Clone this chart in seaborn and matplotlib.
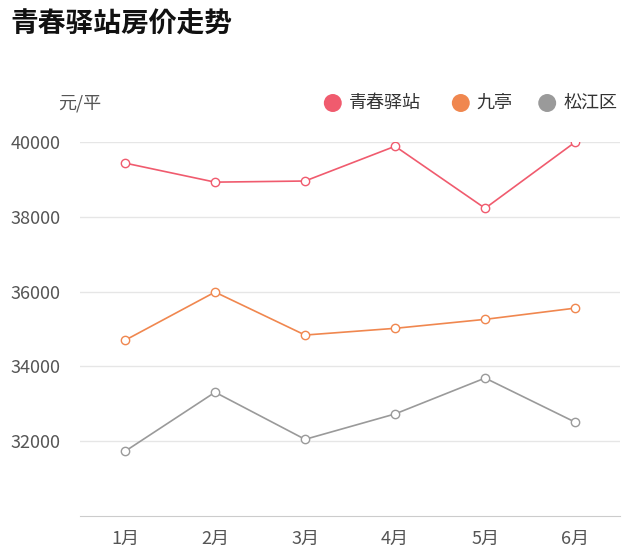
import matplotlib
matplotlib.use("Agg")
import matplotlib.pyplot as plt
import seaborn as sns
import pandas as pd

months = ["1月", "2月", "3月", "4月", "5月", "6月"]
qingchun = [39440, 38930, 38960, 39890, 38230, 40000]
jiuting = [34700, 35990, 34840, 35020, 35260, 35560]
songjiang = [31730, 33310, 32050, 32730, 33690, 32510]
series_names = ["青春驿站", "九亭", "松江区"]
colors = ["#f05b6e", "#f0874f", "#9a9a9a"]
yticks = [32000, 34000, 36000, 38000, 40000]

plt.rcParams["font.family"] = "sans-serif"
plt.rcParams["font.sans-serif"] = ["Noto Sans CJK SC", "Noto Sans CJK JP", "Noto Sans CJK TC",
                                   "DejaVu Sans"]
df = pd.DataFrame({"month": months * 3,
                   "price": qingchun + jiuting + songjiang,
                   "area": [n for n in series_names for _ in months]})

fig = plt.figure(figsize=(6.4, 5.45), dpi=100)
ax = fig.add_axes([0.125, 0.0532, 0.844, 0.686])
sns.lineplot(data=df, x="month", y="price", hue="area", palette=colors,
             marker="o", markersize=6, markerfacecolor="white",
             markeredgewidth=1.0, linewidth=1.2, ax=ax, legend=False)
for line, c in zip(ax.lines, colors):
    line.set_markeredgecolor(c)

ax.set_xlim(-0.5, 5.5)
ax.set_ylim(30000, 40000)
ax.set_yticks(yticks)
ax.set_yticklabels([str(v) for v in yticks])
ax.grid(axis="y", color="#e6e6e6", linewidth=1)
ax.set_axisbelow(True)
for s in ["top", "right", "left"]:
    ax.spines[s].set_visible(False)
ax.spines["bottom"].set_color("#cccccc")
ax.tick_params(axis="y", length=0, labelsize=13, labelcolor="#555555", pad=14)
ax.tick_params(axis="x", length=0, labelsize=13, labelcolor="#555555", pad=10)
ax.set_xlabel("")
ax.set_ylabel("")

fig.text(0.016, 0.955, "青春驿站房价走势", fontsize=20, fontweight="bold",
         va="center", ha="left", color="#111111")
fig.text(0.125, 0.81, "元/平", fontsize=13, color="#555555", ha="center", va="center")

lx = [0.52, 0.72, 0.855]
for x, name, c in zip(lx, series_names, colors):
    fig.patches.append(matplotlib.patches.Ellipse((x, 0.811), 0.028, 0.033, transform=fig.transFigure,
                                                  facecolor=c, edgecolor="none", figure=fig))
    fig.text(x + 0.025, 0.811, name, fontsize=13, color="#333333", va="center", ha="left")

fig.savefig("out.png", dpi=100)
